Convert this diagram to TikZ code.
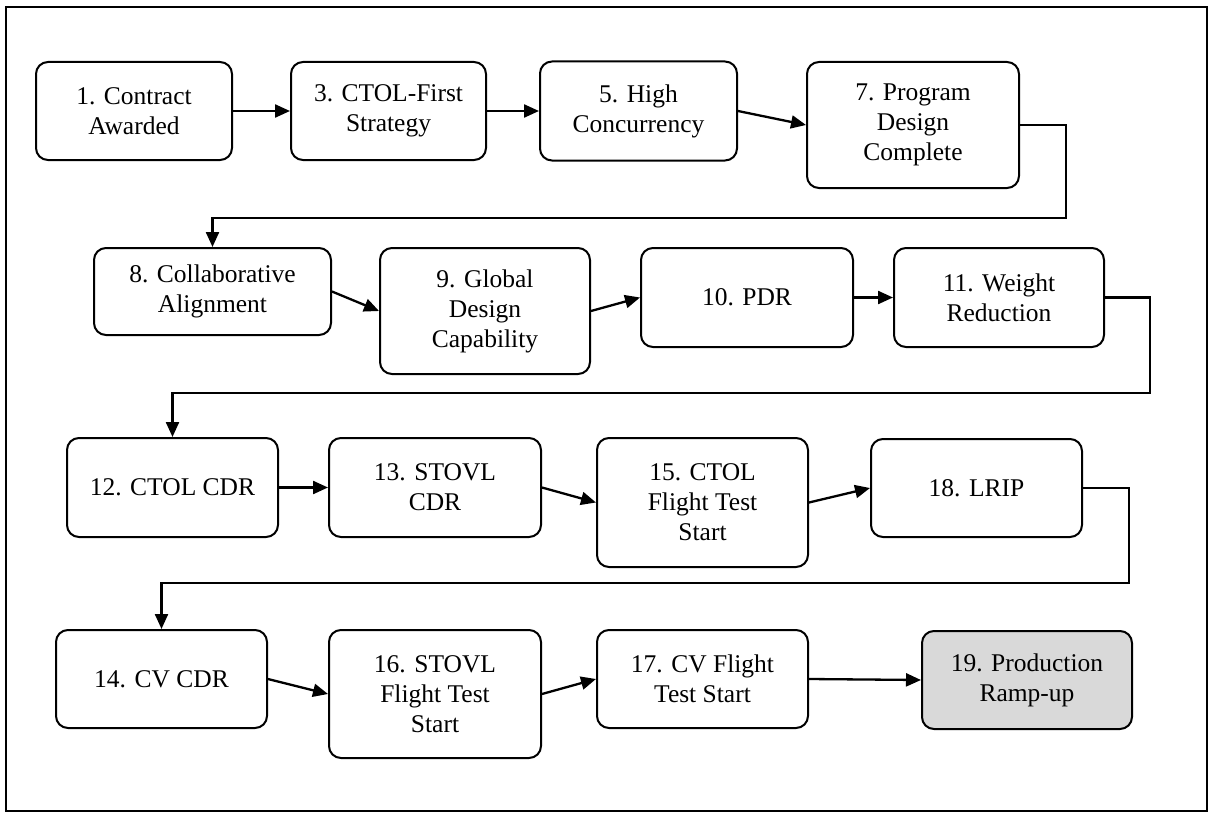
\documentclass[tikz,border=0pt]{standalone}
\usepackage{fontspec}
\setmainfont{Liberation Serif}
\usetikzlibrary{arrows.meta}
\definecolor{rampgray}{HTML}{D9D9D9}
\begin{document}
\begin{tikzpicture}[x=1pt,y=-1pt,
  box/.style={draw, line width=2pt, rounded corners=12pt, align=center, inner sep=0pt,
    font=\fontsize{25.5}{30}\selectfont},
  arr/.style={line width=2.3pt, -{Triangle[length=15pt,width=13pt]}}]
\useasboundingbox (0,0) rectangle (1209,816);
\draw[line width=2pt] (6,7) rectangle (1207,811);
% row 1
\node[box, minimum width=196pt, minimum height=98pt] (n1) at (134,111) {1. Contract\\Awarded};
\node[box, minimum width=195pt, minimum height=98pt] (n3) at (388.5,111) {3. CTOL-First\\Strategy};
\node[box, minimum width=197pt, minimum height=99pt] (n5) at (638.5,111) {5. High\\Concurrency};
\node[box, minimum width=212pt, minimum height=126pt] (n7) at (913,125) {7. Program\\Design\\Complete};
% row 2
\node[box, minimum width=237pt, minimum height=87pt] (n8) at (212.5,291.5) {8. Collaborative\\Alignment};
\node[box, minimum width=210pt, minimum height=126pt] (n9) at (485,311) {9. Global\\Design\\Capability};
\node[box, minimum width=212pt, minimum height=99pt] (n10) at (747,297.5) {10. PDR};
\node[box, minimum width=210pt, minimum height=99pt] (n11) at (999,297.5) {11. Weight\\Reduction};
% row 3
\node[box, minimum width=211pt, minimum height=99pt] (n12) at (172.5,487.5) {12. CTOL CDR};
\node[box, minimum width=212pt, minimum height=99pt] (n13) at (435,487.5) {13. STOVL\\CDR};
\node[box, minimum width=211pt, minimum height=129pt] (n15) at (702.5,502.5) {15. CTOL\\Flight Test\\Start};
\node[box, minimum width=211pt, minimum height=98pt] (n18) at (976.5,488) {18. LRIP};
% row 4
\node[box, minimum width=211pt, minimum height=98pt] (n14) at (161.5,679) {14. CV CDR};
\node[box, minimum width=212pt, minimum height=128pt] (n16) at (435,694) {16. STOVL\\Flight Test\\Start};
\node[box, minimum width=211pt, minimum height=98pt] (n17) at (702.5,679) {17. CV Flight\\Test Start};
\node[box, fill=rampgray, minimum width=210pt, minimum height=98pt] (n19) at (1027,680) {19. Production\\Ramp-up};
% bend points
\coordinate (c78) at (1066,218);
\coordinate (c1112) at (1150,393);
\coordinate (c1814) at (1129,583);
% connectors
\draw[arr] (n1.east) -- (n3.west);
\draw[arr] (n3.east) -- (n5.west);
\draw[arr] (n5.east) -- (n7.west);
\draw[arr] (n7.east) -| (c78) -| (n8.north);
\draw[arr] (n8.east) -- (n9.west);
\draw[arr] (n9.east) -- (n10.west);
\draw[arr] (n10.east) -- (n11.west);
\draw[arr] (n11.east) -| (c1112) -| (n12.north);
\draw[arr] (n12.east) -- (n13.west);
\draw[arr] (n13.east) -- (n15.west);
\draw[arr] (n15.east) -- (n18.west);
\draw[arr] (n18.east) -| (c1814) -| (n14.north);
\draw[arr] (n14.east) -- (n16.west);
\draw[arr] (n16.east) -- (n17.west);
\draw[arr] (n17.east) -- (n19.west);
\end{tikzpicture}
\end{document}
